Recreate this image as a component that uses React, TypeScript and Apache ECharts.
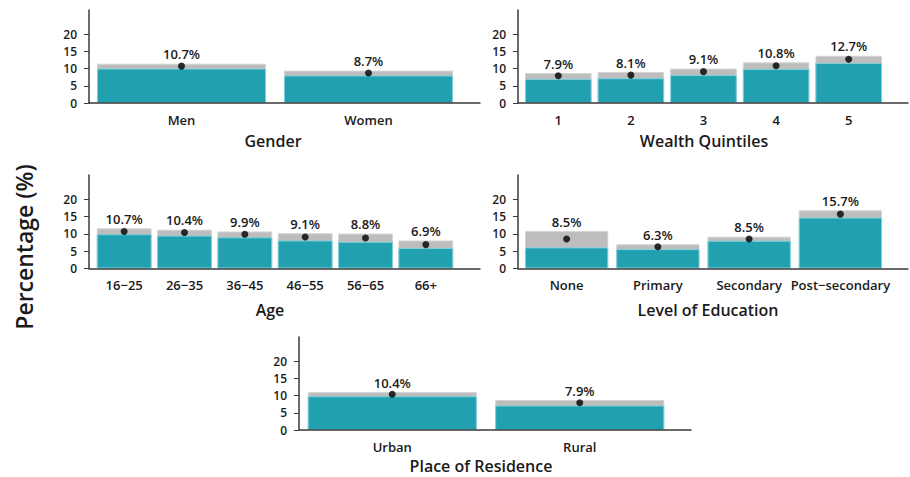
import React, { useEffect, useRef } from "react";
import * as echarts from "echarts";

// ---- Data ----
const genderCats = ["Men", "Women"];
const genderEst = [10.7, 8.7];
const genderLow = [10.0, 8.0];
const genderHigh = [11.4, 9.4];

const wealthCats = ["1", "2", "3", "4", "5"];
const wealthEst = [7.9, 8.1, 9.1, 10.8, 12.7];
const wealthLow = [7.0, 7.2, 8.1, 9.9, 11.6];
const wealthHigh = [8.7, 9.0, 10.0, 11.8, 13.7];

const ageCats = ["16\u221225", "26\u221235", "36\u221245", "46\u221255", "56\u221265", "66+"];
const ageEst = [10.7, 10.4, 9.9, 9.1, 8.8, 6.9];
const ageLow = [9.9, 9.5, 9.0, 8.1, 7.7, 5.9];
const ageHigh = [11.6, 11.2, 10.7, 10.2, 10.1, 8.1];

const eduCats = ["None", "Primary", "Secondary", "Post\u2212secondary"];
const eduEst = [8.5, 6.3, 8.5, 15.7];
const eduLow = [6.1, 5.6, 8.0, 14.7];
const eduHigh = [10.8, 7.0, 9.2, 16.8];

const resCats = ["Urban", "Rural"];
const resEst = [10.4, 7.9];
const resLow = [9.8, 7.1];
const resHigh = [11.0, 8.7];

const yTicks = [0, 5, 10, 15, 20];
const yMax = 27;
const panelTitles = ["Gender", "Wealth Quintiles", "Age", "Level of Education", "Place of Residence"];
const yAxisTitle = "Percentage (%)";

const FONT = "'Open Sans', 'Noto Sans', sans-serif";
const TEXT = "#1a1a1a";
const TEAL = "#21a0b0";
const GREY = "#bdbdbd";
const AXIS = "#3a3a3a";
const W = 600;

type Panel = {
  cats: string[];
  est: number[];
  low: number[];
  high: number[];
  axisLeft: number;
  axisWidth: number;
  barLeft: number;
  barWidth: number;
  top: number;
  height: number;
  gap: string;
  title: string;
  titleX: number;
  titleY: number;
};

const panels: Panel[] = [
  { cats: genderCats, est: genderEst, low: genderLow, high: genderHigh, axisLeft: 89, axisWidth: 391, barLeft: 88, barWidth: 374, top: 10, height: 93, gap: "9.6%", title: panelTitles[0], titleX: 273, titleY: 141 },
  { cats: wealthCats, est: wealthEst, low: wealthLow, high: wealthHigh, axisLeft: 518, axisWidth: 390, barLeft: 522, barWidth: 363, top: 10, height: 93, gap: "8.3%", title: panelTitles[1], titleX: 704, titleY: 141 },
  { cats: ageCats, est: ageEst, low: ageLow, high: ageHigh, axisLeft: 89, axisWidth: 391, barLeft: 94, barWidth: 362, top: 175, height: 93.5, gap: "9.1%", title: panelTitles[2], titleX: 270, titleY: 310 },
  { cats: eduCats, est: eduEst, low: eduLow, high: eduHigh, axisLeft: 518, axisWidth: 390, barLeft: 521, barWidth: 365, top: 175, height: 93.5, gap: "8.7%", title: panelTitles[3], titleX: 708, titleY: 310 },
  { cats: resCats, est: resEst, low: resLow, high: resHigh, axisLeft: 299, axisWidth: 392, barLeft: 298.5, barWidth: 375, top: 337, height: 93, gap: "9.8%", title: panelTitles[4], titleX: 481, titleY: 466 },
];

function buildOption() {
  const grid: any[] = [];
  const xAxis: any[] = [];
  const yAxis: any[] = [];
  const series: any[] = [];
  const graphic: any[] = [];

  panels.forEach((p, i) => {
    const gA = i * 2;
    const gB = i * 2 + 1;
    grid.push({ left: p.axisLeft, top: p.top, width: p.axisWidth, height: p.height, containLabel: false });
    grid.push({ left: p.barLeft, top: p.top, width: p.barWidth, height: p.height, containLabel: false });

    // axis-line grid
    xAxis.push({
      type: "value", gridIndex: gA, min: 0, max: 1, z: 5,
      axisLine: { show: true, lineStyle: { color: AXIS, width: 1.5 } },
      axisTick: { show: false }, axisLabel: { show: false }, splitLine: { show: false },
    });
    yAxis.push({
      type: "value", gridIndex: gA, min: 0, max: yMax, interval: 5, z: 5,
      axisLine: { show: true, lineStyle: { color: AXIS, width: 1.5 } },
      axisTick: { show: true, length: 5, lineStyle: { color: AXIS, width: 1 }, customValues: yTicks },
      axisLabel: { show: true, margin: 12, fontSize: 12, fontWeight: W, color: TEXT, fontFamily: FONT, customValues: yTicks },
      splitLine: { show: false },
    });

    // bar grid
    xAxis.push({
      type: "category", gridIndex: gB, data: p.cats,
      axisLine: { show: false }, axisTick: { show: false },
      axisLabel: { show: true, margin: 10, fontSize: 13, fontWeight: W, color: TEXT, fontFamily: FONT, interval: 0 },
      splitLine: { show: false },
    });
    yAxis.push({
      type: "value", gridIndex: gB, min: 0, max: yMax, interval: 5,
      axisLine: { show: false }, axisTick: { show: false }, axisLabel: { show: false }, splitLine: { show: false },
    });

    const est = p.est;
    series.push({
      type: "bar", xAxisIndex: gB, yAxisIndex: gB, data: p.high,
      barCategoryGap: p.gap, barGap: "-100%",
      itemStyle: { color: GREY, borderColor: "#d4d4d4", borderWidth: 1 },
      label: {
        show: true, position: "top", distance: 3, fontSize: 13, fontWeight: W, color: TEXT, fontFamily: FONT,
        formatter: (q: any) => est[q.dataIndex].toFixed(1) + "%",
      },
      z: 2,
    });
    series.push({
      type: "bar", xAxisIndex: gB, yAxisIndex: gB, data: p.low,
      barCategoryGap: p.gap, barGap: "-100%",
      itemStyle: { color: TEAL, borderColor: "#7fd0dc", borderWidth: 1 },
      z: 3,
    });
    series.push({
      type: "scatter", xAxisIndex: gB, yAxisIndex: gB, data: p.est,
      symbol: "circle", symbolSize: 7, itemStyle: { color: "#000" }, z: 4,
    });

    graphic.push({
      type: "text", x: p.titleX, y: p.titleY,
      style: { text: p.title, fontSize: 16, fontWeight: W, fill: TEXT, fontFamily: FONT, align: "center", verticalAlign: "middle" },
    });
  });

  graphic.push({
    type: "text", x: 23.5, y: 247, rotation: Math.PI / 2,
    style: { text: yAxisTitle, fontSize: 23, fontWeight: W, fill: TEXT, fontFamily: FONT, align: "center", verticalAlign: "middle" },
  });

  return { animation: false, backgroundColor: "#ffffff", grid, xAxis, yAxis, series, graphic };
}

export default function App() {
  const ref = useRef<HTMLDivElement>(null);
  useEffect(() => {
    if (!ref.current) return;
    const chart = echarts.init(ref.current, undefined, { renderer: "svg" });
    chart.setOption(buildOption());
    return () => chart.dispose();
  }, []);
  return (
    <div
      ref={ref}
      style={{ position: "absolute", left: 0, top: 0, width: 910, height: 477, background: "#fff" }}
    />
  );
}
